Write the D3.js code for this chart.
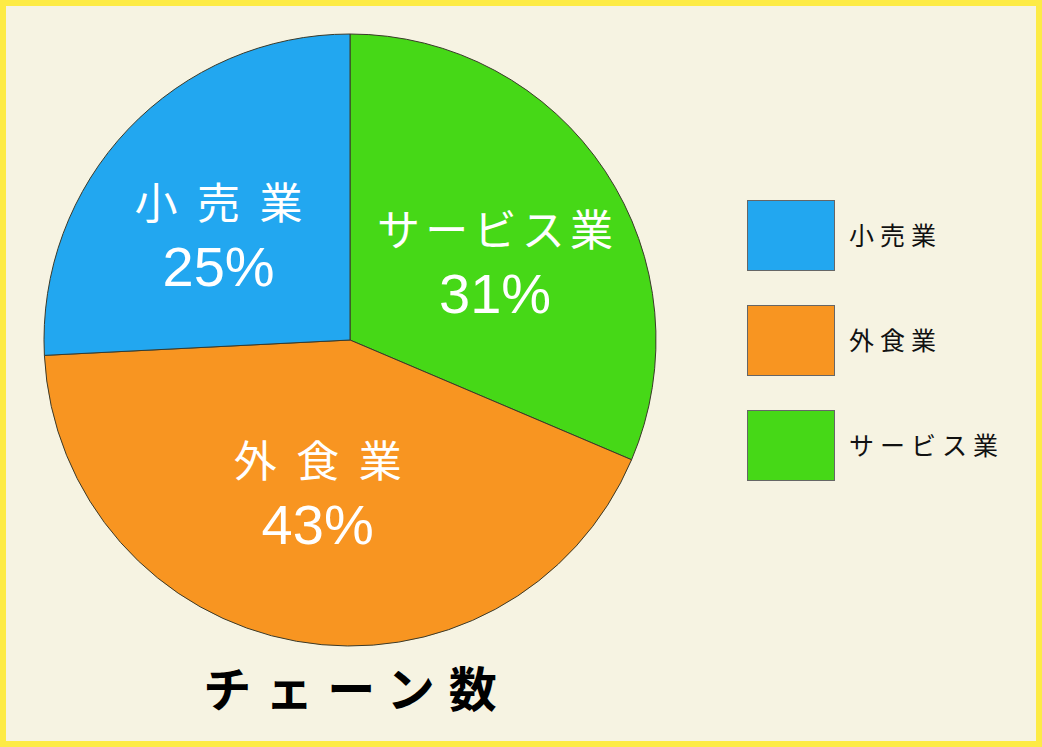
<!DOCTYPE html>
<html><head><meta charset="utf-8">
<script src="https://cdn.jsdelivr.net/npm/d3@7"></script>
<style>html,body{margin:0;padding:0;background:#F6F3E2;}svg{display:block;}</style>
</head><body>
<svg id="c" width="1042" height="747"></svg>
<script>
const categories = ["小売業", "外食業", "サービス業"];
const shares = [25.8, 42.8, 31.4];
const percentLabels = ["25%", "43%", "31%"];
const colors = ["#22A7F0", "#F89521", "#46D817"];
const title = "チェーン数";

const svg = d3.select("#c");
const W = 1042, H = 747;
const font = "'Noto Sans CJK JP','Noto Sans',sans-serif";
const numFont = "'Liberation Sans',Arial,sans-serif";

svg.append("rect").attr("x", 3).attr("y", 3).attr("width", W - 6).attr("height", H - 6)
  .attr("fill", "#F6F3E2").attr("stroke", "#FDEB45").attr("stroke-width", 6);

const cx = 350, cy = 340, r = 306;
const g = svg.append("g").attr("transform", `translate(${cx},${cy})`);

// order: green (サービス業) starts at 12 o'clock clockwise, then orange, then blue
const order = [2, 1, 0];
const pie = d3.pie().sort(null).value(i => shares[i]);
const arcs = pie(order);
const arc = d3.arc().innerRadius(0).outerRadius(r);

g.selectAll("path").data(arcs).join("path")
  .attr("d", arc)
  .attr("fill", d => colors[d.data])
  .attr("stroke", "#3a3a2a").attr("stroke-width", 1);

const labelArc = d3.arc().innerRadius(162).outerRadius(162);
const labelOffsets = {0: [-14, 8], 1: [-4, -5], 2: [10, 12]};
const labelWidths = {0: 168, 1: 168, 2: 236};
const lg = g.selectAll("g.lbl").data(arcs).join("g").attr("class", "lbl")
  .attr("transform", d => {
    const c = labelArc.centroid(d);
    const o = labelOffsets[d.data];
    return `translate(${c[0] + o[0]},${c[1] + o[1]})`;
  });
lg.append("text")
  .attr("text-anchor", "middle").attr("y", -17)
  .attr("font-family", font).attr("font-size", 43)
  .attr("textLength", d => labelWidths[d.data]).attr("lengthAdjust", "spacing")
  .attr("fill", "#fff").text(d => categories[d.data]);
lg.append("text")
  .attr("text-anchor", "middle").attr("y", 50)
  .attr("font-family", numFont).attr("font-size", 56)
  .attr("fill", "#fff").text(d => percentLabels[d.data]);

// legend
const leg = svg.append("g").attr("transform", "translate(747,200)");
const li = leg.selectAll("g").data(d3.range(categories.length)).join("g")
  .attr("transform", i => `translate(0,${i * 105})`);
li.append("rect").attr("x", 0.5).attr("y", 0.5).attr("width", 87).attr("height", 70)
  .attr("fill", i => colors[i]).attr("stroke", "#666").attr("stroke-width", 1);
li.append("text").attr("x", 102).attr("y", 45)
  .attr("font-family", font).attr("font-size", 25).attr("letter-spacing", 6)
  .attr("fill", "#111").text(i => categories[i]);

// title
svg.append("text").attr("x", 350).attr("dx", 7).attr("y", 707).attr("text-anchor", "middle")
  .attr("font-family", font).attr("font-size", 48).attr("font-weight", "bold")
  .attr("letter-spacing", 14).attr("fill", "#000").text(title);
</script>
</body></html>
